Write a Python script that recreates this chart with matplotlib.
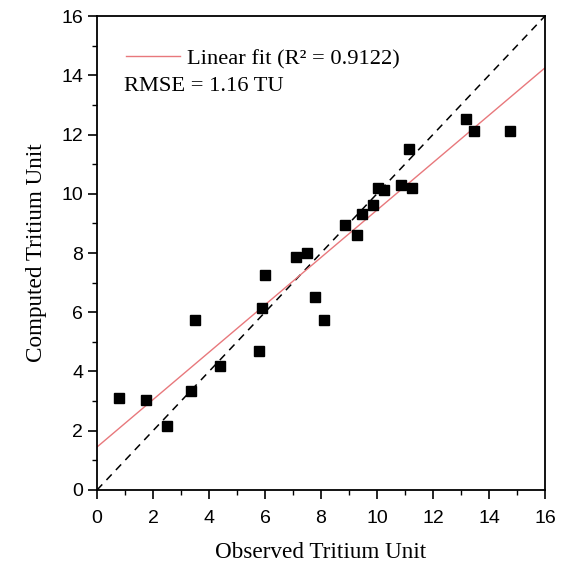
import numpy as np
import matplotlib.pyplot as plt

# observed vs computed tritium
observed = [0.8, 1.75, 2.5, 3.35, 3.5, 4.4, 5.8, 5.9, 6.0, 7.1, 7.5, 7.8, 8.1,
            8.85, 9.3, 9.45, 9.85, 10.05, 10.25, 10.85, 11.25, 11.15, 13.17, 13.45, 14.75]
computed = [3.1, 3.05, 2.15, 3.35, 5.75, 4.2, 4.7, 6.15, 7.25, 7.85, 8.0, 6.5, 5.75,
            8.95, 8.6, 9.3, 9.63, 10.2, 10.12, 10.3, 10.2, 11.52, 12.52, 12.12, 12.12]
fit_intercept = 1.45
fit_slope = 0.8

fig = plt.figure(figsize=(5.63, 5.66), dpi=100)
ax = fig.add_axes([0.1723, 0.1343, 0.7957, 0.8374])

xx = np.array([0, 16])
ax.plot(xx, xx, 'k--', lw=1.1, dashes=(5, 4))
ax.plot(xx, fit_intercept + fit_slope * xx, color='#e8787c', lw=1.0,
        label='Linear fit (R² = 0.9122)')
ax.plot(observed, computed, 's', color='black', markersize=7.5, linestyle='none')

ax.set_xlim(0, 16)
ax.set_ylim(0, 16)
ax.set_xticks(np.arange(0, 17, 2))
ax.set_yticks(np.arange(0, 17, 2))
ax.set_xticks(np.arange(0, 17, 1), minor=True)
ax.set_yticks(np.arange(0, 17, 1), minor=True)
ax.tick_params(which='major', direction='out', length=6.5, width=1.2, labelsize=14)
ax.tick_params(axis='x', which='major', pad=8)
ax.tick_params(which='minor', direction='out', length=3.5, width=1.0)
for lab in ax.get_xticklabels() + ax.get_yticklabels():
    lab.set_family('Liberation Sans')
for s in ax.spines.values():
    s.set_linewidth(1.3)

ax.set_xlabel('Observed Tritium Unit', family='Liberation Serif', fontsize=16.7, labelpad=11)
ax.set_ylabel('Computed Tritium Unit', family='Liberation Serif', fontsize=16.7, labelpad=10)

leg = ax.legend(loc='upper left', frameon=False, handlelength=2.4, handletextpad=0.3,
                prop={'family': 'Liberation Serif', 'size': 16.2},
                bbox_to_anchor=(0.02, 0.974))
ax.text(0.06, 0.852, 'RMSE = 1.16 TU', transform=ax.transAxes,
        family='Liberation Serif', fontsize=16.2, va='center')

plt.savefig('out.png', dpi=100)
